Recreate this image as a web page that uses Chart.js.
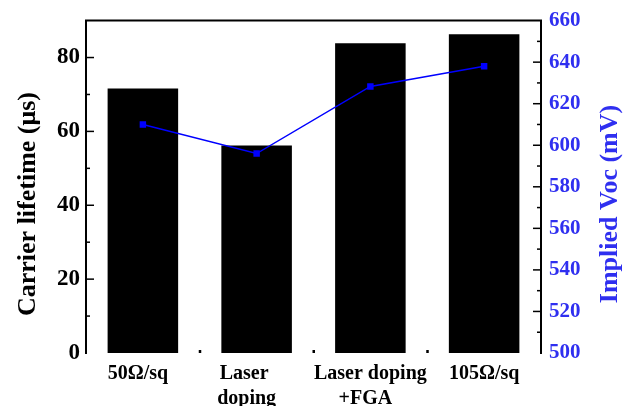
<!DOCTYPE html>
<html lang="en">
<head>
    <meta charset="UTF-8">
    <title>Carrier lifetime and implied Voc</title>
    <script src="https://cdn.jsdelivr.net/npm/chart.js"></script>
    <style>
        body {
            margin: 0;
            padding: 0;
            background: white;
        }
        #wrap {
            width: 632px;
            height: 406px;
        }
    </style>
</head>
<body>
<div id="wrap">
    <canvas id="graph" width="632" height="406"></canvas>
</div>
<script>
    // data
    const categories = [['50Ω/sq  '], ['Laser     ', 'doping    '], ['Laser doping', '+FGA  '], ['105Ω/sq']];
    const lifetime = [71.6, 56.2, 83.9, 86.3];      // µs, left axis (bars)
    const impliedVoc = [610, 596, 628.3, 638];      // mV, right axis (line)
    const lifetimeTicks = [0, 20, 40, 60, 80];
    const vocTicks = [500, 520, 540, 560, 580, 600, 620, 640, 660];

    const serif = 'Liberation Serif';
    const blue = '#0000ff';
    const labelBlue = '#2f2ff0';

    // inward ticks, top frame line, category separators and rotated titles
    const frame = {
        id: 'frame',
        afterDraw(chart) {
            const ctx = chart.ctx;
            const area = chart.chartArea;
            const y = chart.scales.y;
            const y1 = chart.scales.y1;
            const x = chart.scales.x;
            ctx.save();
            ctx.strokeStyle = '#000';
            ctx.lineWidth = 1.5;
            for (let v = 10; v < 90; v += 10) {
                const py = y.getPixelForValue(v);
                const len = v % 20 === 0 ? 8 : 4;
                ctx.beginPath();
                ctx.moveTo(area.left, py);
                ctx.lineTo(area.left + len, py);
                ctx.stroke();
            }
            for (let v = 510; v < 660; v += 10) {
                const py = y1.getPixelForValue(v);
                const len = v % 20 === 0 ? 8 : 4;
                ctx.beginPath();
                ctx.moveTo(area.right, py);
                ctx.lineTo(area.right - len, py);
                ctx.stroke();
            }
            // top line of the frame
            ctx.lineWidth = 2;
            ctx.beginPath();
            ctx.moveTo(area.left - 1, area.top);
            ctx.lineTo(area.right + 1, area.top);
            ctx.stroke();
            // small marks between categories
            ctx.fillStyle = '#000';
            for (let i = 0; i < categories.length - 1; i++) {
                const px = (x.getPixelForValue(i) + x.getPixelForValue(i + 1)) / 2;
                ctx.fillRect(px - 1, area.bottom - 3, 2.5, 3);
            }
            // axis titles, reading bottom to top
            ctx.font = 'bold 26px "' + serif + '"';
            ctx.textAlign = 'center';
            ctx.textBaseline = 'middle';
            ctx.translate(28, 204);
            ctx.rotate(-Math.PI / 2);
            ctx.fillStyle = '#000';
            ctx.fillText('Carrier lifetime (μs)', 0, 0);
            ctx.rotate(Math.PI / 2);
            ctx.translate(610 - 28, 0);
            ctx.rotate(-Math.PI / 2);
            ctx.fillStyle = labelBlue;
            ctx.fillText('Implied Voc (mV)', 0, 0);
            ctx.restore();
        }
    };

    new Chart(document.getElementById('graph').getContext('2d'), {
        data: {
            labels: categories,
            datasets: [{
                type: 'line',
                label: 'Implied Voc',
                data: impliedVoc,
                yAxisID: 'y1',
                borderColor: blue,
                borderWidth: 1.5,
                pointStyle: 'rect',
                pointRadius: 3.5,
                pointBackgroundColor: blue,
                pointBorderColor: blue,
                tension: 0,
                order: 0
            }, {
                type: 'bar',
                label: 'Carrier lifetime',
                data: lifetime,
                yAxisID: 'y',
                backgroundColor: '#000',
                barPercentage: 0.62,
                categoryPercentage: 1.0,
                order: 1
            }]
        },
        options: {
            responsive: false,
            animation: false,
            layout: { padding: { top: 20, left: 0, right: 0, bottom: 0 } },
            plugins: {
                legend: { display: false },
                tooltip: { enabled: false }
            },
            scales: {
                x: {
                    offset: true,
                    grid: { display: false, drawTicks: false },
                    border: { display: false },
                    ticks: {
                        color: '#000',
                        padding: 8,
                        autoSkip: false,
                        maxRotation: 0,
                        font: { family: serif, weight: 'bold', size: 20, lineHeight: 1.25 }
                    },
                    afterFit(scale) { scale.height = 53; }
                },
                y: {
                    position: 'left',
                    min: 0,
                    max: 90,
                    grid: { display: false, drawTicks: false },
                    border: { display: true, color: '#000', width: 2 },
                    ticks: {
                        stepSize: 10,
                        color: '#000',
                        padding: 6,
                        font: { family: serif, weight: 'bold', size: 23 },
                        callback: v => lifetimeTicks.includes(v) ? v : ''
                    },
                    afterFit(scale) { scale.width = 86; }
                },
                y1: {
                    position: 'right',
                    min: 500,
                    max: 660,
                    grid: { display: false, drawTicks: false },
                    border: { display: true, color: '#000', width: 2 },
                    ticks: {
                        stepSize: 10,
                        color: labelBlue,
                        padding: 8,
                        font: { family: serif, weight: 'bold', size: 21 },
                        callback: v => vocTicks.includes(v) ? v : ''
                    },
                    afterFit(scale) { scale.width = 91; }
                }
            }
        },
        plugins: [frame]
    });
</script>
</body>
</html>
